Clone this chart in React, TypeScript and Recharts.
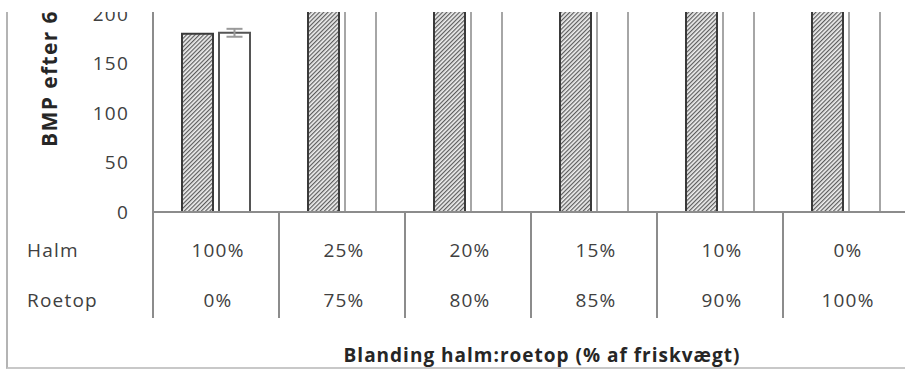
import React from "react";
import { BarChart, Bar, XAxis, YAxis, Cell, ErrorBar } from "recharts";

// Mixtures of straw (halm) and beet tops (roetop), share of fresh weight
const mixKeys = ["100:0", "25:75", "20:80", "15:85", "10:90", "0:100"];
const halmShare = ["100%", "25%", "20%", "15%", "10%", "0%"];
const roetopShare = ["0%", "75%", "80%", "85%", "90%", "100%"];

// BMP values; the mixtures run past the top of the axis
const measuredBmp = [180, 330, 345, 355, 360, 370];
const calculatedBmp = [181, 325, 340, 350, 358, 368];
const calculatedErr = [4, 0, 0, 0, 0, 0];

const yTicks = [0, 50, 100, 150, 200];

const data = mixKeys.map((mix, i) => ({
  mix,
  measured: measuredBmp[i],
  calculated: calculatedBmp[i],
  err: calculatedErr[i],
}));

const FONT = "'Open Sans', Lato, sans-serif";
const TEXT = "#404040";
const GRID = "#8c8c8c";

const TableTick = (props: any) => {
  const { x, y, index, payload } = props;
  const half = payload?.offset ?? 63;
  const left = x - half;
  return (
    <g fontFamily={FONT} fontSize={19} letterSpacing={1.2} fill={TEXT}>
      <line x1={left} y1={y} x2={left} y2={y + 106} stroke={GRID} strokeWidth={2} />
      {index === 0 && (
        <>
          <text x={left - 126} y={y + 45} fill={TEXT}>Halm</text>
          <text x={left - 126} y={y + 95} fill={TEXT}>Roetop</text>
        </>
      )}
      <text x={x + 2} y={y + 45} textAnchor="middle" fill={TEXT}>{halmShare[index]}</text>
      <text x={x + 2} y={y + 95} textAnchor="middle" fill={TEXT}>{roetopShare[index]}</text>
    </g>
  );
};

const YTitle = () => (
  <text
    x={57}
    y={147}
    transform="rotate(-90, 57, 147)"
    fontFamily={FONT}
    fontSize={21}
    fontWeight="bold"
    letterSpacing={1.4}
    fill="#262626"
  >
    BMP efter 60 dage (NL CH₄/kg VS)
  </text>
);

const XTitle = (props: any) => {
  const { viewBox } = props;
  const cx = viewBox.x + viewBox.width / 2 + 11;
  return (
    <text
      x={cx}
      y={viewBox.y + viewBox.height}
      textAnchor="middle"
      fontFamily={FONT}
      fontSize={19}
      fontWeight="bold"
      letterSpacing={1}
      fill="#262626"
    >
      Blanding halm:roetop (% af friskvægt)
    </text>
  );
};

export default function App() {
  return (
    <div
      style={{
        position: "absolute",
        left: 0,
        top: 0,
        width: 905,
        height: 371,
        overflow: "hidden",
        background: "#fff",
      }}
    >
      {/* chart frame */}
      <div
        style={{
          position: "absolute",
          left: 6,
          top: 0,
          width: 1000,
          height: 367,
          borderLeft: "2px solid #b4b4b4",
          borderBottom: "2px solid #c8c8c8",
        }}
      />
      <BarChart
        width={930}
        height={371}
        data={data}
        margin={{ top: 12, right: 21, bottom: 9, left: 0 }}
        barCategoryGap={29}
        barGap={6}
        style={{ position: "absolute", left: 0, top: 0 }}
      >
        <defs>
          <pattern id="hatch" width="3" height="3" patternUnits="userSpaceOnUse" patternTransform="rotate(45)">
            <rect width="3" height="3" fill="#efefef" />
            <line x1="0.6" y1="0" x2="0.6" y2="3" stroke="#5c5c5c" strokeWidth="1.2" />
          </pattern>
        </defs>
        <XAxis
          dataKey="mix"
          height={150}
          tickLine={false}
          tickSize={0}
          tickMargin={0}
          axisLine={{ stroke: GRID, strokeWidth: 2 }}
          tick={<TableTick />}
          interval={0}
          label={<XTitle />}
        />
        <YAxis
          width={153}
          domain={[0, 202]}
          ticks={yTicks}
          allowDataOverflow
          tickLine={false}
          tickSize={0}
          tickMargin={24}
          axisLine={{ stroke: GRID, strokeWidth: 2 }}
          tick={{ fontFamily: FONT, fontSize: 19, fill: TEXT, letterSpacing: 1.2 }}
          label={<YTitle />}
        />
        <Bar dataKey="measured" fill="url(#hatch)" stroke="#3a3a3a" strokeWidth={2} isAnimationActive={false} />
        <Bar dataKey="calculated" fill="#fff" strokeWidth={2} isAnimationActive={false}>
          {data.map((_d, i) => (
            <Cell key={`c-${i}`} stroke={i === 0 ? "#555" : "#a6a6a6"} />
          ))}
          <ErrorBar dataKey="err" width={8} stroke="#9a9a9a" strokeWidth={2} />
        </Bar>
      </BarChart>
      {/* blank strip along the top edge */}
      <div style={{ position: "absolute", left: 0, top: 0, width: 905, height: 12, background: "#fff" }} />
    </div>
  );
}
